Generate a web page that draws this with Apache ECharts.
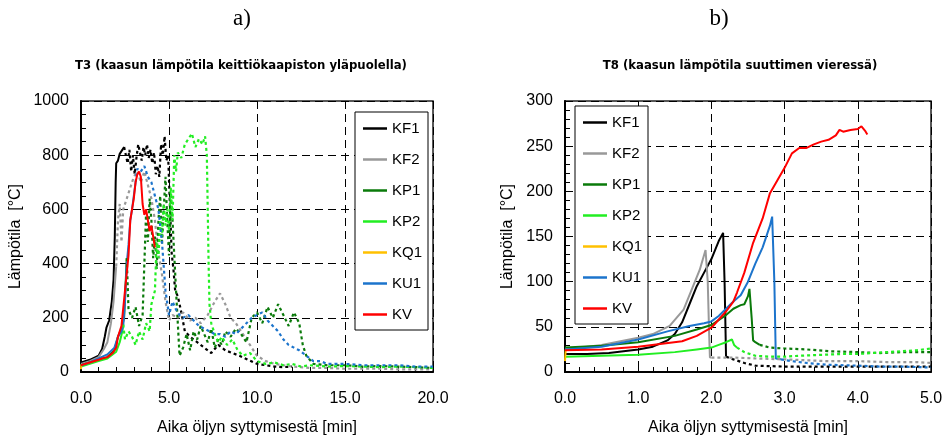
<!DOCTYPE html>
<html>
<head>
<meta charset="utf-8">
<script src="https://cdn.jsdelivr.net/npm/echarts@6/dist/echarts.min.js"></script>
<style>
html,body{margin:0;padding:0;background:#fff;}
#chart{width:946px;height:438px;}
</style>
</head>
<body>
<div id="chart"></div>
<script>
// ---------- DATA ----------
const seriesNames = ['KF1','KF2','KP1','KP2','KQ1','KU1','KV'];
const seriesColors = ['#000000','#999999','#0a7a0a','#22ee22','#ffc000','#1c74cc','#ff0000'];

const xTicksA = [0, 5, 10, 15, 20];
const yTicksA = [0, 200, 400, 600, 800, 1000];
const xTicksB = [0, 1, 2, 3, 4, 5];
const yTicksB = [0, 50, 100, 150, 200, 250, 300];

// T3 (chart a) : [time min, temperature °C]
const a_KF1_solid = [[0,35],[0.5,45],[1.0,60],[1.2,85],[1.35,130],[1.45,165],[1.6,190],[1.75,260],[1.85,340],[1.92,500],[1.97,700],[2.0,770],[2.1,780],[2.2,805],[2.3,815],[2.45,830]];
const a_KF1_dash = [[2.45,830],[2.55,800],[2.65,770],[2.75,820],[2.85,740],[2.95,800],[3.05,730],[3.15,790],[3.25,840],[3.35,810],[3.45,780],[3.55,830],[3.65,800],[3.75,840],[3.85,790],[3.95,820],[4.05,770],[4.15,810],[4.25,730],[4.35,760],[4.45,720],[4.55,840],[4.65,800],[4.75,870],[4.85,780],[4.95,800],[5.05,620],[5.15,440],[5.25,380],[5.35,300],[5.5,280],[5.7,220],[5.9,150],[6.2,130],[6.6,110],[7.0,90],[7.4,70],[7.8,100],[8.2,80],[8.6,70],[9.0,60],[9.5,45],[10.0,30],[10.5,25],[11.0,20],[11.5,18],[12.0,20]];
const a_KF2_solid = [[0,30],[0.5,40],[1.0,55],[1.3,85],[1.5,110],[1.7,180],[1.85,260],[2.0,390]];
const a_KF2_dash = [[2.0,390],[2.1,560],[2.2,620],[2.3,480],[2.4,600],[2.6,640],[2.8,680],[3.0,720],[3.2,740],[3.4,700],[3.6,740],[3.8,690],[4.0,640],[4.2,560],[4.4,440],[4.6,360],[4.8,260],[5.0,190],[5.2,210],[5.5,200],[5.8,220],[6.2,190],[6.5,200],[6.8,180],[7.2,210],[7.6,260],[7.9,290],[8.2,250],[8.5,200],[8.8,180],[9.2,140],[9.6,100],[10.0,60],[10.5,40],[11,30],[12,20],[13,15],[14,15],[15,12],[16,12],[17,12],[18,10],[19,10],[20,10]];
const a_KP1_solid = [[0,25],[0.5,35],[1.0,45],[1.5,55],[1.9,80],[2.1,130],[2.3,160],[2.45,200],[2.6,420]];
const a_KP1_dash = [[2.6,420],[2.7,230],[2.9,200],[3.1,240],[3.3,170],[3.5,210],[3.7,590],[3.8,480],[3.9,640],[4.0,560],[4.1,420],[4.2,500],[4.3,380],[4.4,560],[4.5,650],[4.6,470],[4.7,600],[4.8,720],[4.9,560],[5.0,430],[5.1,650],[5.2,560],[5.4,300],[5.5,180],[5.6,60],[5.8,90],[6.0,140],[6.2,80],[6.4,150],[6.6,120],[6.8,170],[7.0,140],[7.2,110],[7.4,160],[7.6,90],[7.8,120],[8.0,100],[8.2,150],[8.5,130],[8.8,160],[9.1,140],[9.4,110],[9.7,200],[10.0,220],[10.3,180],[10.6,240],[10.9,200],[11.2,250],[11.5,210],[11.8,170],[12.1,220],[12.4,180],[12.6,100],[12.8,60],[13.2,30],[14,25],[15,25],[16,20],[17,22],[18,20],[19,18],[20,15]];
const a_KP2_solid = [[0,20],[0.5,30],[1.0,40],[1.5,50],[2.0,75],[2.2,110],[2.35,150],[2.4,175]];
const a_KP2_dash = [[2.4,175],[2.5,120],[2.7,150],[2.9,130],[3.1,100],[3.3,150],[3.5,120],[3.7,180],[3.9,150],[4.0,250],[4.2,300],[4.3,480],[4.4,420],[4.5,560],[4.6,500],[4.7,620],[4.8,540],[4.9,600],[5.0,520],[5.1,680],[5.2,560],[5.3,800],[5.4,740],[5.5,810],[5.7,790],[5.9,840],[6.1,860],[6.3,880],[6.5,830],[6.7,860],[6.9,840],[7.05,870],[7.15,800],[7.2,600],[7.25,400],[7.3,250],[7.4,180],[7.6,140],[7.8,110],[8.0,130],[8.3,100],[8.6,120],[8.9,80],[9.2,60],[9.6,70],[10.0,40],[10.5,30],[11,35],[11.5,25],[12,30],[12.5,20],[13,25],[14,20],[15,22],[16,20],[17,18],[18,20],[19,18],[20,15]];
const a_KQ1 = [[0,10],[0.02,28]];
const a_KU1_solid = [[0,25],[0.5,35],[1.0,50],[1.5,65],[1.9,90],[2.1,130],[2.3,150],[2.4,170],[2.5,260],[2.6,400],[2.7,470],[2.8,560],[2.9,600],[3.0,650],[3.1,700]];
const a_KU1_dash = [[3.1,700],[3.2,750],[3.4,740],[3.6,760],[3.8,720],[4.0,700],[4.2,650],[4.4,600],[4.6,480],[4.8,300],[5.0,210],[5.2,260],[5.4,230],[5.6,210],[5.8,200],[6.1,210],[6.4,190],[6.7,170],[7.0,160],[7.3,150],[7.6,140],[7.9,140],[8.2,130],[8.5,150],[8.8,140],[9.1,160],[9.4,180],[9.7,200],[10.0,210],[10.3,220],[10.6,190],[10.9,170],[11.2,150],[11.5,120],[11.8,100],[12.1,90],[12.4,80],[12.8,60],[13.2,40],[13.6,40],[14,30],[15,30],[16,25],[17,25],[18,25],[19,20],[20,20]];
const a_KV_solid = [[0,25],[0.5,35],[1.0,45],[1.2,50],[1.5,55],[1.8,70],[2.0,90],[2.1,130],[2.3,170],[2.5,300],[2.7,430],[2.8,560],[2.9,600],[3.0,640],[3.1,700],[3.2,730],[3.3,740],[3.4,720],[3.5,620],[3.6,580],[3.7,600],[3.8,560],[3.9,520],[4.0,540],[4.1,500],[4.2,460]];

// T8 (chart b)
const b_KF1_solid = [[0,20],[0.3,20],[0.6,21],[1.0,25],[1.2,28],[1.4,35],[1.5,42],[1.6,55],[1.7,75],[1.8,95],[1.9,110],[2.0,125],[2.1,145],[2.16,154],[2.18,100],[2.2,17]];
const b_KF1_dash = [[2.2,17],[2.3,14],[2.45,10],[2.6,7],[3.0,6],[3.5,6],[4.0,6],[4.5,6],[5.0,6]];
const b_KF2_solid = [[0,25],[0.5,30],[1.0,38],[1.2,42],[1.43,51],[1.62,69],[1.75,95],[1.84,113],[1.92,135],[1.95,100],[1.97,40],[1.98,16],[2.0,16]];
const b_KF2_dash = [[2.0,16],[2.3,16],[2.6,15],[3.0,14],[3.3,13],[3.6,12],[4.0,12],[4.4,11],[4.8,11],[5.0,10]];
const b_KP1_solid = [[0,27],[0.5,29],[1.0,33],[1.5,40],[1.8,47],[2.0,52],[2.2,63],[2.3,70],[2.4,74],[2.45,75],[2.5,84],[2.52,92],[2.55,60],[2.57,35],[2.6,33],[2.66,30]];
const b_KP1_dash = [[2.66,30],[2.8,27],[3.0,26],[3.3,25],[3.6,23],[4.0,22],[4.3,21],[4.6,22],[5.0,22]];
const b_KP2_solid = [[0,17],[0.5,18],[1.0,19],[1.5,22],[1.8,25],[2.0,27],[2.1,30],[2.2,33],[2.28,36],[2.31,30],[2.35,27]];
const b_KP2_dash = [[2.35,27],[2.45,22],[2.6,18],[2.8,17],[3.0,17],[3.2,18],[3.5,19],[3.8,20],[4.0,20],[4.2,21],[4.4,22],[4.6,23],[4.8,24],[5.0,26]];
const b_KQ1 = [[0,12],[0.01,25]];
const b_KU1_solid = [[0,25],[0.5,28],[1.0,36],[1.4,45],[1.7,51],[1.9,54],[2.0,56],[2.1,62],[2.2,70],[2.3,78],[2.4,85],[2.5,100],[2.6,120],[2.7,138],[2.8,162],[2.83,172],[2.86,100],[2.88,15],[2.95,14]];
const b_KU1_dash = [[2.95,14],[3.1,12],[3.3,10],[3.6,8],[4.0,7],[4.3,6],[4.6,6],[5.0,5]];
const b_KV_solid = [[0,24],[0.5,25],[1.0,28],[1.3,31],[1.6,34],[1.8,40],[2.0,49],[2.2,67],[2.3,78],[2.35,88],[2.45,110],[2.57,143],[2.7,170],[2.8,198],[2.9,212],[3.0,226],[3.1,242],[3.2,248],[3.3,248],[3.4,252],[3.5,255],[3.6,257],[3.7,262],[3.75,268],[3.8,266],[3.9,268],[4.0,269],[4.05,272],[4.1,267],[4.13,263]];

const titleA = 'T3 (kaasun lämpötila keittiökaapiston yläpuolella)';
const titleB = 'T8 (kaasun lämpötila suuttimen vieressä)';
const xName = 'Aika öljyn syttymisestä [min]';
const yName = 'Lämpötila  [°C]';

// ---------- CHART ----------
const FONT = 'Liberation Sans, Arial, sans-serif';
const TFONT = 'Liberation Sans Narrow, DejaVu Sans Condensed, Arial Narrow, Liberation Sans, sans-serif';
const colorOf = n => seriesColors[seriesNames.indexOf(n)];

function mk(name, data, idx, dashed) {
  return {
    name: name, type: 'line', data: data,
    xAxisIndex: idx, yAxisIndex: idx,
    symbol: 'none', showSymbol: false, animation: false,
    color: colorOf(name),
    lineStyle: { color: colorOf(name), width: dashed ? 2.2 : 2, type: dashed ? [3, 3] : 'solid' },
    z: name === 'KV' ? 4 : 3
  };
}

const series = [
  mk('KF1', a_KF1_solid, 0, false), mk('KF2', a_KF2_solid, 0, false),
  mk('KP1', a_KP1_solid, 0, false), mk('KP2', a_KP2_solid, 0, false),
  mk('KQ1', a_KQ1, 0, false), mk('KU1', a_KU1_solid, 0, false),
  mk('KV', a_KV_solid, 0, false),
  mk('KF1', a_KF1_dash, 0, true), mk('KF2', a_KF2_dash, 0, true),
  mk('KP1', a_KP1_dash, 0, true), mk('KP2', a_KP2_dash, 0, true),
  mk('KU1', a_KU1_dash, 0, true),
  mk('KF1', b_KF1_solid, 1, false), mk('KF2', b_KF2_solid, 1, false),
  mk('KP1', b_KP1_solid, 1, false), mk('KP2', b_KP2_solid, 1, false),
  mk('KQ1', b_KQ1, 1, false), mk('KU1', b_KU1_solid, 1, false),
  mk('KV', b_KV_solid, 1, false),
  mk('KF1', b_KF1_dash, 1, true), mk('KF2', b_KF2_dash, 1, true),
  mk('KP1', b_KP1_dash, 1, true), mk('KP2', b_KP2_dash, 1, true),
  mk('KU1', b_KU1_dash, 1, true)
];

function xAxis(idx, ticks, minorN) {
  const min = ticks[0], max = ticks[ticks.length - 1], step = ticks[1] - ticks[0];
  return {
    gridIndex: idx, type: 'value', min: min, max: max, interval: step,
    name: xName, nameLocation: 'middle', nameGap: 48,
    nameTextStyle: { fontFamily: FONT, fontSize: 16, color: '#000' },
    axisLine: { show: true, onZero: false, lineStyle: { color: '#000', width: 2 } },
    axisTick: { show: true, inside: true, length: 5, lineStyle: { color: '#000', width: 1 } },
    minorTick: { show: true, splitNumber: minorN, length: 5, lineStyle: { color: '#000', width: 1 } },
    axisLabel: { fontFamily: FONT, fontSize: 16, color: '#000', margin: 19, formatter: v => v.toFixed(1) },
    splitLine: { show: true, lineStyle: { color: '#000', width: 1, type: [8, 5] } }
  };
}
function yAxis(idx, ticks, minorN, gap) {
  const min = ticks[0], max = ticks[ticks.length - 1], step = ticks[1] - ticks[0];
  return {
    gridIndex: idx, type: 'value', min: min, max: max, interval: step,
    name: yName, nameLocation: 'middle', nameGap: gap, nameRotate: 90,
    nameTextStyle: { fontFamily: FONT, fontSize: 16, color: '#000' },
    axisLine: { show: true, onZero: false, lineStyle: { color: '#000', width: 2 } },
    axisTick: { show: true, inside: true, length: 5, lineStyle: { color: '#000', width: 1 } },
    minorTick: { show: true, splitNumber: minorN, length: 5, lineStyle: { color: '#000', width: 1 } },
    axisLabel: { fontFamily: FONT, fontSize: 16, color: '#000', margin: 12, formatter: v => String(v) },
    splitLine: { show: true, lineStyle: { color: '#000', width: 1, type: [8, 5] } }
  };
}

function legend(left, top) {
  return {
    data: seriesNames, orient: 'vertical', left: left, top: top,
    icon: 'rect', padding: [9, 6, 8, 8], itemWidth: 24, itemHeight: 2.5, itemGap: 16,
    backgroundColor: '#fff', borderColor: '#000', borderWidth: 1,
    textStyle: { fontFamily: FONT, fontSize: 15, color: '#000' },
    selectedMode: false
  };
}

const gridBase = { show: true, borderColor: '#222', borderWidth: 1.5, backgroundColor: 'transparent', containLabel: false, outerBoundsMode: 'none' };

const option = {
  animation: false,
  backgroundColor: '#fff',
  title: [
    { text: 'a)', left: 237, top: 2, textAlign: 'center', textStyle: { fontFamily: 'Liberation Serif, serif', fontSize: 23, fontWeight: 'normal', color: '#000' } },
    { text: 'b)', left: 714, top: 2, textAlign: 'center', textStyle: { fontFamily: 'Liberation Serif, serif', fontSize: 23, fontWeight: 'normal', color: '#000' } },
    { text: titleA, left: 236, top: 54, textAlign: 'center', textStyle: { fontFamily: TFONT, fontSize: 13, fontWeight: 'bold', color: '#000' } },
    { text: titleB, left: 735, top: 54, textAlign: 'center', textStyle: { fontFamily: TFONT, fontSize: 13, fontWeight: 'bold', color: '#000' } }
  ],
  legend: [legend(355, 112), legend(575, 106)],
  grid: [
    Object.assign({ left: 81, right: 513, top: 101, bottom: 66 }, gridBase),
    Object.assign({ left: 565, right: 15, top: 101, bottom: 66 }, gridBase)
  ],
  xAxis: [xAxis(0, xTicksA, 5), xAxis(1, xTicksB, 5)],
  yAxis: [yAxis(0, yTicksA, 4, 57), yAxis(1, yTicksB, 5, 49)],
  series: series
};

const chart = echarts.init(document.getElementById('chart'), null, { renderer: 'canvas' });
chart.setOption(option);
</script>
</body>
</html>
